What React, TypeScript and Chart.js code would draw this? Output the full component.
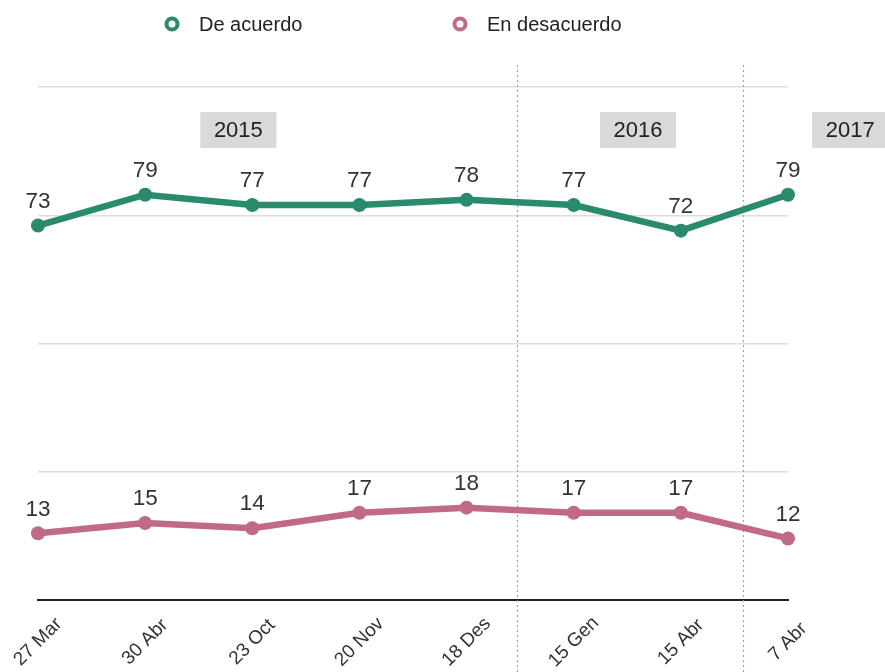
import React, { useEffect, useRef } from 'react';
import { Chart, registerables } from 'chart.js';

Chart.register(...registerables);

const categories = ['27 Mar', '30 Abr', '23 Oct', '20 Nov', '18 Des', '15 Gen', '15 Abr', '7 Abr'];
const seriesNames = ['De acuerdo', 'En desacuerdo'];
const agreeValues = [73, 79, 77, 77, 78, 77, 72, 79];
const disagreeValues = [13, 15, 14, 17, 18, 17, 17, 12];
const yTickValues = [0, 25, 50, 75, 100];
const yearLabels = ['2015', '2016', '2017'];
const yearLabelIndex = [1.87, 5.6, 7.58];
const yearBreakIndex = [4.47, 6.58];

const GREEN = '#2a8a6e';
const PINK = '#c16a86';
const FONT = '"Liberation Sans", Arial, Helvetica, sans-serif';

const overlayPlugin = {
  id: 'overlay',
  beforeDatasetsDraw(chart: any) {
    const { ctx, chartArea } = chart;
    const xs = chart.scales.x;
    ctx.save();
    ctx.strokeStyle = '#a0a0a0';
    ctx.lineWidth = 1.2;
    ctx.setLineDash([2, 3]);
    yearBreakIndex.forEach((b) => {
      const px = Math.round(xs.getPixelForValue(b)) + 0.5;
      ctx.beginPath();
      ctx.moveTo(px, chartArea.top - 22);
      ctx.lineTo(px, chart.height);
      ctx.stroke();
    });
    ctx.restore();
  },
  afterDatasetsDraw(chart: any) {
    const { ctx } = chart;
    ctx.save();
    ctx.font = `22.5px ${FONT}`;
    ctx.fillStyle = '#333';
    ctx.textAlign = 'center';
    ctx.textBaseline = 'middle';
    chart.data.datasets.forEach((ds: any, di: number) => {
      const meta = chart.getDatasetMeta(di);
      meta.data.forEach((pt: any, i: number) => {
        ctx.fillText(String(ds.data[i]), pt.x, pt.y - 24);
      });
    });
    ctx.restore();
  },
  afterDraw(chart: any) {
    const { ctx, chartArea } = chart;
    const xs = chart.scales.x;
    ctx.save();
    // x tick labels, rotated around their centre
    ctx.font = `19px ${FONT}`;
    ctx.fillStyle = '#333';
    ctx.textAlign = 'center';
    ctx.textBaseline = 'middle';
    categories.forEach((lab, i) => {
      const px = xs.getPixelForTick(i);
      ctx.save();
      ctx.translate(px, chartArea.bottom + 42);
      ctx.rotate(-Math.PI / 4);
      ctx.fillText(lab, 0, 0);
      ctx.restore();
    });
    // year boxes
    ctx.font = `22px ${FONT}`;
    yearLabels.forEach((lab, i) => {
      const cx = xs.getPixelForValue(yearLabelIndex[i]);
      const cy = chartArea.top + 43;
      ctx.fillStyle = '#d9d9d9';
      ctx.fillRect(cx - 38, cy - 18, 76, 36);
      ctx.fillStyle = '#222';
      ctx.fillText(lab, cx, cy + 1);
    });
    // legend
    const legendX = [172, 460];
    const colors = [GREEN, PINK];
    ctx.font = `20px ${FONT}`;
    ctx.textAlign = 'left';
    seriesNames.forEach((name, i) => {
      ctx.beginPath();
      ctx.strokeStyle = colors[i];
      ctx.lineWidth = 4;
      ctx.setLineDash([]);
      ctx.arc(legendX[i], 24, 5.5, 0, Math.PI * 2);
      ctx.stroke();
      ctx.fillStyle = '#222';
      ctx.fillText(name, legendX[i] + 27, 25);
    });
    ctx.restore();
  },
};

export default function App() {
  const ref = useRef<HTMLCanvasElement>(null);
  useEffect(() => {
    document.body.style.margin = '0';
    const canvas = ref.current!;
    const chart = new Chart(canvas, {
      type: 'line',
      data: {
        labels: categories,
        datasets: [
          {
            label: seriesNames[0],
            data: agreeValues,
            borderColor: GREEN,
            backgroundColor: GREEN,
            borderWidth: 6.5,
            pointRadius: 7,
            pointBorderWidth: 0,
            pointBackgroundColor: GREEN,
            tension: 0,
            clip: false as any,
          },
          {
            label: seriesNames[1],
            data: disagreeValues,
            borderColor: PINK,
            backgroundColor: PINK,
            borderWidth: 6.5,
            pointRadius: 7,
            pointBorderWidth: 0,
            pointBackgroundColor: PINK,
            tension: 0,
            clip: false as any,
          },
        ],
      },
      options: {
        responsive: false,
        animation: false,
        layout: { padding: { left: 38, right: 97, top: 87, bottom: 72 } },
        plugins: {
          legend: { display: false },
          tooltip: { enabled: false },
        },
        scales: {
          x: {
            offset: false,
            grid: { display: false, drawTicks: false },
            border: { display: true, color: '#222', width: 2 },
            ticks: { display: false },
          },
          y: {
            min: 0,
            max: 100,
            afterBuildTicks: (scale: any) => {
              scale.ticks = yTickValues.map((v) => ({ value: v }));
            },
            grid: {
              drawTicks: false,
              color: (c: any) => (c.tick && c.tick.value === 0 ? 'rgba(0,0,0,0)' : '#dedede'),
              lineWidth: 1.5,
            },
            border: { display: false },
            ticks: { display: false },
          },
        },
      },
      plugins: [overlayPlugin],
    });
    return () => chart.destroy();
  }, []);
  return <canvas ref={ref} width={885} height={672} style={{ display: 'block' }} />;
}
